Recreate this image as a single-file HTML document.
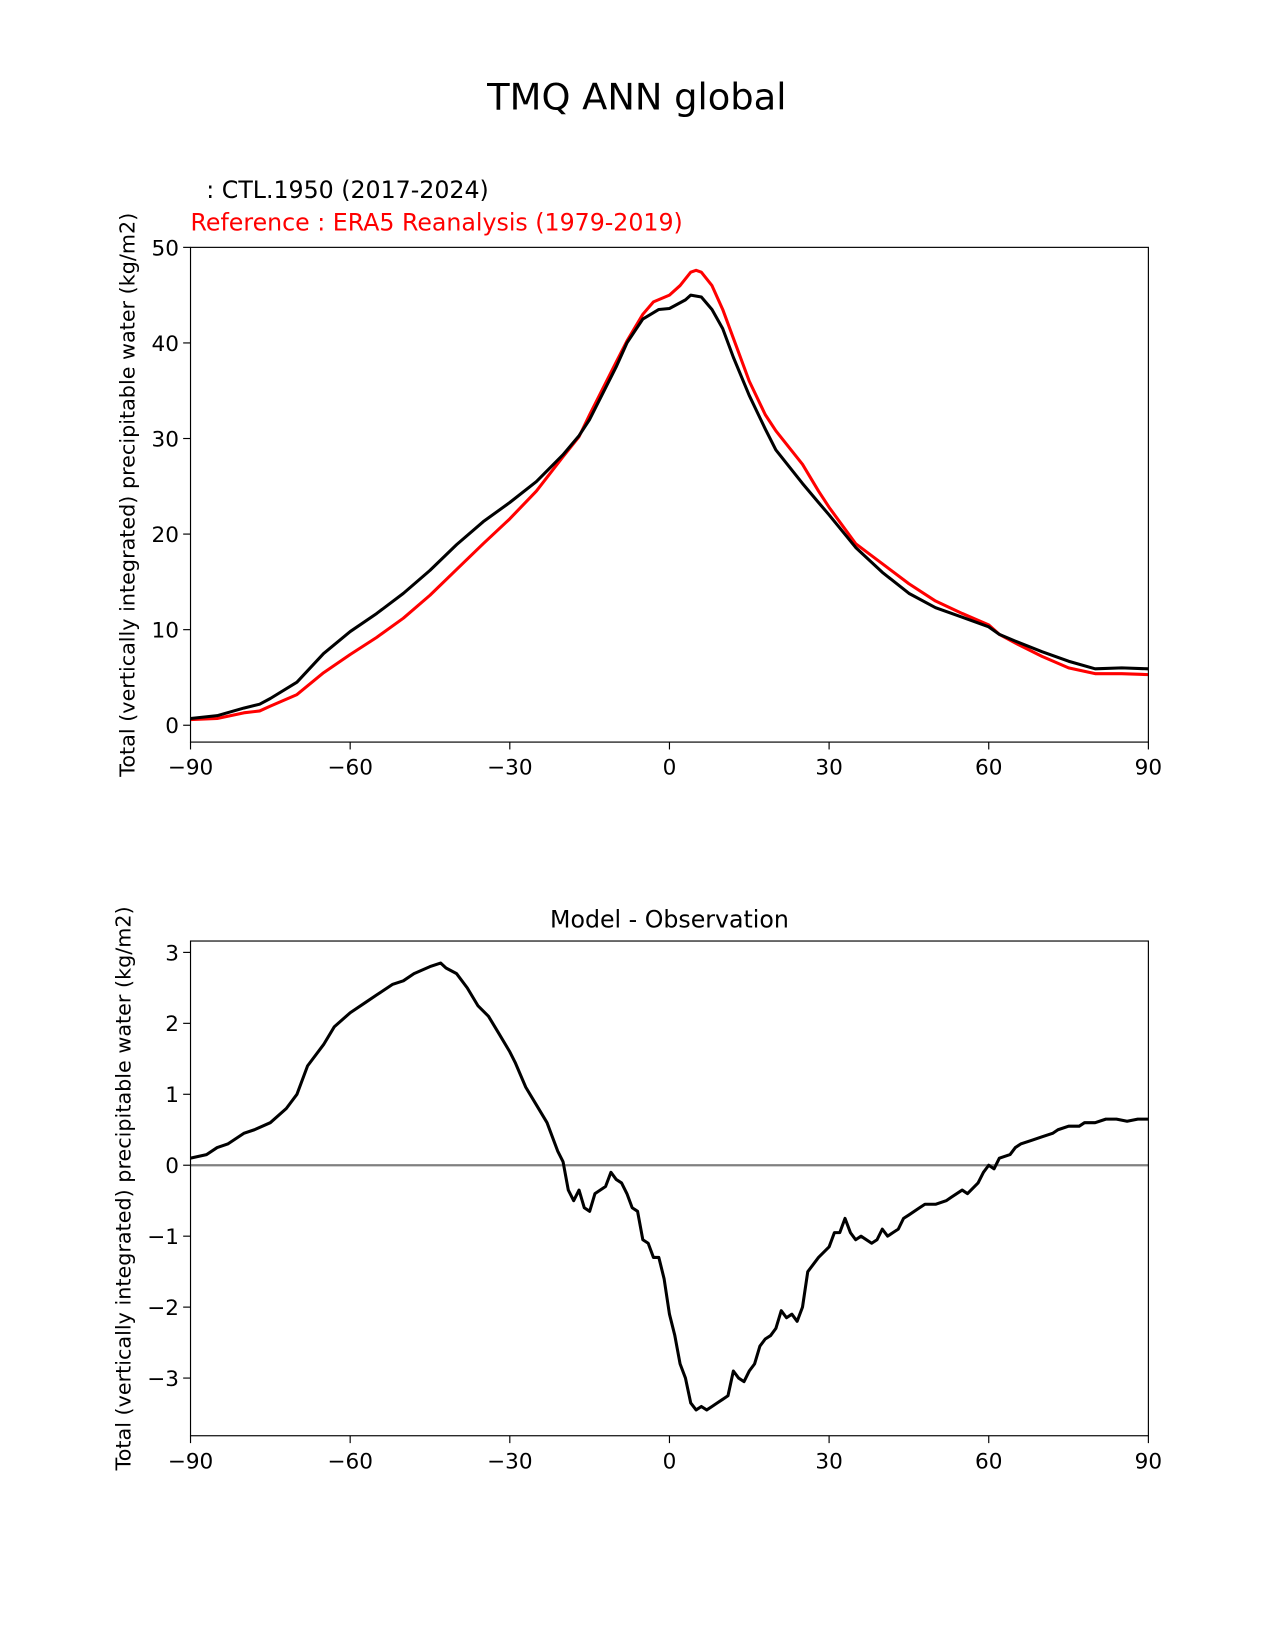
<!DOCTYPE html>
<html><head><meta charset="utf-8"><style>
html,body{margin:0;padding:0;background:#fff;}
svg{display:block;font-family:"DejaVu Sans","Liberation Sans",sans-serif;}
</style></head><body>
<svg id="fig" width="1275" height="1650" viewBox="0 0 1275 1650" xmlns="http://www.w3.org/2000/svg">
<rect width="1275" height="1650" fill="#fff"/>
<g transform="scale(1.0526)">
<text x="605" y="104" font-size="35" text-anchor="middle">TMQ ANN global</text>
<text x="196" y="188" font-size="22.5">: CTL.1950 (2017-2024)</text>
<text x="181" y="219" font-size="22.5" fill="#ff0000">Reference : ERA5 Reanalysis (1979-2019)</text>
<text x="636" y="881" font-size="22.5" text-anchor="middle">Model - Observation</text>
<g id="top"></g>
<g id="bot"></g>
</g>
</svg>
<script>
const topLat = [-90,-85,-80,-77,-75,-70,-65,-60,-55,-50,-45,-40,-35,-30,-25,-20,-17,-15,-10,-8,-5,-2,0,3,4,6,8,10,12,15,18,20,25,28,30,35,40,45,50,55,60,62,65,70,75,80,85,90];
const modelVals = [0.7,1.0,1.8,2.2,2.8,4.5,7.5,9.8,11.7,13.8,16.2,18.9,21.3,23.3,25.5,28.3,30.3,32,37.5,40,42.5,43.5,43.6,44.5,45,44.8,43.5,41.5,38.5,34.5,31,28.8,25.3,23.3,22,18.6,16.0,13.8,12.3,11.3,10.3,9.5,8.8,7.7,6.7,5.9,6.0,5.9];
const obsLat = [-90,-85,-80,-77,-75,-70,-65,-60,-55,-50,-45,-40,-35,-30,-25,-20,-17,-15,-10,-8,-5,-3,0,2,4,5,6,8,10,12,15,18,20,25,28,30,35,40,45,50,55,60,62,65,70,75,80,85,90];
const obsVals = [0.6,0.7,1.3,1.5,2.0,3.2,5.5,7.4,9.2,11.2,13.6,16.3,19.0,21.6,24.5,28.1,30.2,32.5,38,40.2,43,44.3,45,46,47.4,47.6,47.4,46,43.5,40.5,36,32.5,30.8,27.3,24.5,22.8,19,16.9,14.8,13,11.7,10.5,9.5,8.6,7.2,6,5.4,5.4,5.3];
const diffLat = [-90,-87,-85,-83,-80,-78,-75,-72,-70,-68,-65,-63,-60,-57,-55,-52,-50,-48,-45,-43,-42,-40,-38,-36,-34,-32,-30,-29,-27,-25,-23,-21,-20,-19,-18,-17,-16,-15,-14,-12,-11,-10,-9,-8,-7,-6,-5,-4,-3,-2,-1,0,1,2,3,4,5,6,7,8,9,10,11,12,13,14,15,16,17,18,19,20,21,22,23,24,25,26,27,28,30,31,32,33,34,35,36,38,39,40,41,42,43,44,45,47,48,50,52,53,55,56,58,59,60,61,62,64,65,66,68,70,72,73,75,77,78,80,82,84,86,88,90];
const diffVals = [0.1,0.15,0.25,0.3,0.45,0.5,0.6,0.8,1.0,1.4,1.7,1.95,2.15,2.3,2.4,2.55,2.6,2.7,2.8,2.85,2.78,2.7,2.5,2.25,2.1,1.85,1.6,1.45,1.1,0.85,0.6,0.2,0.05,-0.35,-0.5,-0.35,-0.6,-0.65,-0.4,-0.3,-0.1,-0.2,-0.25,-0.4,-0.6,-0.65,-1.05,-1.1,-1.3,-1.3,-1.6,-2.1,-2.4,-2.8,-3.0,-3.35,-3.45,-3.4,-3.45,-3.4,-3.35,-3.3,-3.25,-2.9,-3.0,-3.05,-2.9,-2.8,-2.55,-2.45,-2.4,-2.3,-2.05,-2.15,-2.1,-2.2,-2.0,-1.5,-1.4,-1.3,-1.15,-0.95,-0.95,-0.75,-0.95,-1.05,-1.0,-1.1,-1.05,-0.9,-1.0,-0.95,-0.9,-0.75,-0.7,-0.6,-0.55,-0.55,-0.5,-0.45,-0.35,-0.4,-0.25,-0.1,0,-0.05,0.1,0.15,0.25,0.3,0.35,0.4,0.45,0.5,0.55,0.55,0.6,0.6,0.65,0.65,0.62,0.65,0.65];
const xTicks = [-90,-60,-30,0,30,60,90];
const xTickLabels = ["\u221290","\u221260","\u221230","0","30","60","90"];
const topYTicks = [0,10,20,30,40,50];
const botYTicks = [-3,-2,-1,0,1,2,3];
const botYTickLabels = ["\u22123","\u22122","\u22121","0","1","2","3"];

const NS="http://www.w3.org/2000/svg";
function mk(parent,tag,attrs){const e=document.createElementNS(NS,tag);for(const k in attrs)e.setAttribute(k,attrs[k]);parent.appendChild(e);return e;}
const X0=181,X1=1091;
const xs=v=>X0+(v+90)/180*(X1-X0);

function panel(g,top,bot,ys,yTicks,yLabels,nm){
  for(let i=0;i<xTicks.length;i++){
    const x=xs(xTicks[i]);
    const t=mk(g,'line',{x1:x,x2:x,y1:bot,y2:bot+7,stroke:'#000','stroke-width':1.1});
    
    
    const l=mk(g,'text',{x:x,y:bot+31,'font-size':20.5,'text-anchor':'middle'});
    
    
    l.textContent=xTickLabels[i];
  }
  for(let i=0;i<yTicks.length;i++){
    const y=ys(yTicks[i]);
    const t=mk(g,'line',{x1:X0-7,x2:X0,y1:y,y2:y,stroke:'#000','stroke-width':1.1});
    
    
    const l=mk(g,'text',{x:X0-11,y:y+7.5,'font-size':20.5,'text-anchor':'end'});
    
    
    l.textContent=yLabels[i];
  }
  const cy=(top+bot)/2, lx=nm==='top'?128:124;
  const yl=mk(g,'text',{x:lx,y:cy,'font-size':19.7,'text-anchor':'middle',transform:`rotate(-90 ${lx} ${cy})`});
  
  
  yl.textContent='Total (vertically integrated) precipitable water (kg/m2)';
}
function line(g,lat,vals,ys,color,w,nm){
  const p=mk(g,'polyline',{points:lat.map((v,i)=>xs(v).toFixed(1)+','+ys(vals[i]).toFixed(1)).join(' '),fill:'none',stroke:color,'stroke-width':w,'stroke-linejoin':'round'});
  
  
}
function frame(g,top,bot,nm){
  const r=mk(g,'rect',{x:X0,y:top,width:X1-X0,height:bot-top,fill:'none',stroke:'#000','stroke-width':1.1});
  
  
}
const gt=document.getElementById('top');
const ysT=v=>689-v*9.08;
panel(gt,235,705,ysT,topYTicks,topYTicks.map(String),'top');
line(gt,obsLat,obsVals,ysT,'#ff0000',2.9,'obs-line');
line(gt,topLat,modelVals,ysT,'#000',2.9,'model-line');
frame(gt,235,705,'top');
const gb=document.getElementById('bot');
const ysB=v=>1107-v*67.4;
panel(gb,894,1364,ysB,botYTicks,botYTickLabels,'bottom');
const zl=mk(gb,'line',{x1:X0,x2:X1,y1:ysB(0),y2:ysB(0),stroke:'#808080','stroke-width':2.2});


line(gb,diffLat,diffVals,ysB,'#000',2.9,'diff-line');
frame(gb,894,1364,'bottom');
</script>
</body></html>
